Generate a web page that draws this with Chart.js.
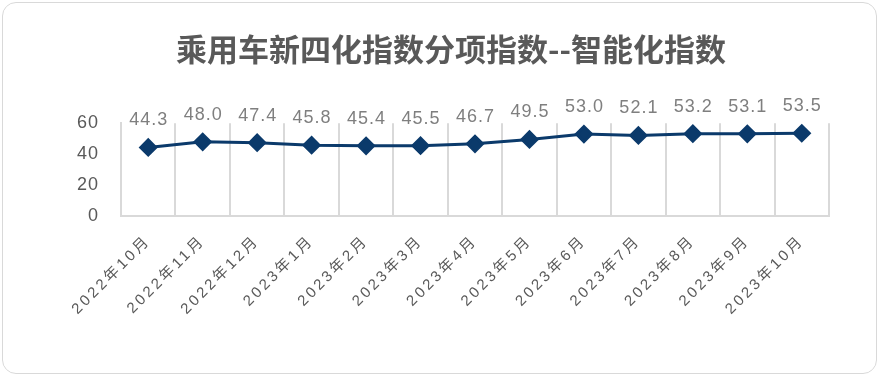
<!DOCTYPE html>
<html>
<head>
<meta charset="utf-8">
<script src="https://cdn.jsdelivr.net/npm/chart.js@4.4.0/dist/chart.umd.min.js"></script>
<style>
  html, body { margin: 0; padding: 0; background: #fff; }
  #wrap { position: relative; width: 880px; height: 377px; }
  #frame { position: absolute; left: 2px; top: 2px; width: 873px; height: 370px;
           border: 1px solid #d9d9d9; border-radius: 14px; box-sizing: content-box; pointer-events: none; }
  canvas { position: absolute; left: 0; top: 0; }
</style>
</head>
<body>
<div id="wrap">
  <canvas id="aiChart" width="880" height="377"></canvas>
  <div id="frame"></div>
</div>
<script>
// 智能化指数 monthly values
var months = ['2022年10月', '2022年11月', '2022年12月', '2023年1月', '2023年2月', '2023年3月',
              '2023年4月', '2023年5月', '2023年6月', '2023年7月', '2023年8月', '2023年9月', '2023年10月'];
var indexValues = [44.3, 48.0, 47.4, 45.8, 45.4, 45.5, 46.7, 49.5, 53.0, 52.1, 53.2, 53.1, 53.5];
var yTicks = [0, 20, 40, 60];

var chartTitle = '乘用车新四化指数分项指数--智能化指数';
var sansFont = "'Liberation Sans', 'Noto Sans CJK SC', sans-serif";

// value labels above each marker
var valueLabels = {
    id: 'valueLabels',
    afterDatasetsDraw: function (chart) {
        var ctx = chart.ctx;
        var meta = chart.getDatasetMeta(0);
        ctx.save();
        ctx.font = '18px ' + sansFont;
        ctx.letterSpacing = '1px';
        ctx.fillStyle = '#7f7f7f';
        ctx.textAlign = 'center';
        ctx.textBaseline = 'alphabetic';
        meta.data.forEach(function (pt, i) {
            ctx.fillText(indexValues[i].toFixed(1), pt.x + 0.5, pt.y - 22);
        });
        ctx.restore();
    }
};

// letter spacing on the tick labels
var spacedText = {
    id: 'spacedText',
    afterLayout: function (chart) {
        if (chart._spaced) return;
        function wrap(obj, fn, spacing) {
            var orig = obj[fn];
            obj[fn] = function () {
                var c = this.ctx;
                c.save();
                c.letterSpacing = spacing;
                orig.apply(this, arguments);
                c.restore();
            };
        }
        wrap(chart.scales.x, 'drawLabels', '3px');
        wrap(chart.scales.y, 'drawLabels', '1px');
        chart._spaced = true;
    }
};

var ctx = document.getElementById('aiChart').getContext('2d');
var aiChart = new Chart(ctx, {
    type: 'line',
    data: {
        labels: months,
        datasets: [{
            data: indexValues,
            borderColor: '#0b3a6b',
            backgroundColor: '#0b3a6b',
            borderWidth: 3,
            pointStyle: 'rectRot',
            pointRadius: 7.5,
            pointHoverRadius: 7.5,
            tension: 0
        }]
    },
    options: {
        responsive: false,
        animation: false,
        layout: { padding: { left: 22, right: 0, top: 0, bottom: 0 } },
        plugins: {
            legend: { display: false },
            tooltip: { enabled: false },
            title: {
                display: true,
                text: chartTitle,
                color: '#595959',
                font: { family: "'Noto Sans CJK SC', sans-serif", size: 31, weight: 'bold', lineHeight: 1.2 },
                padding: { top: 31, bottom: 55 }
            }
        },
        scales: {
            x: {
                offset: true,
                grid: { offset: true, color: '#d9d9d9', lineWidth: 2, drawTicks: false },
                border: { color: '#d9d9d9', width: 2 },
                ticks: {
                    color: '#595959',
                    font: { family: sansFont, size: 15 },
                    minRotation: 45,
                    maxRotation: 45,
                    padding: 16,
                    autoSkip: false
                },
                afterFit: function (scale) { scale.height = 161; }
            },
            y: {
                min: 0,
                max: 60,
                afterBuildTicks: function (scale) {
                    scale.ticks = yTicks.map(function (v) { return { value: v }; });
                },
                grid: { display: false },
                border: { color: '#d9d9d9', width: 2 },
                ticks: {
                    color: '#595959',
                    font: { family: sansFont, size: 18 },
                    padding: 14
                },
                afterFit: function (scale) { scale.width = 99; }
            },
            // empty right margin so the title sits centred over the whole card
            yRight: {
                position: 'right',
                display: true,
                grid: { display: false },
                border: { display: false },
                ticks: { display: false },
                afterFit: function (scale) { scale.width = 51; }
            }
        }
    },
    plugins: [valueLabels, spacedText]
});
</script>
</body>
</html>
